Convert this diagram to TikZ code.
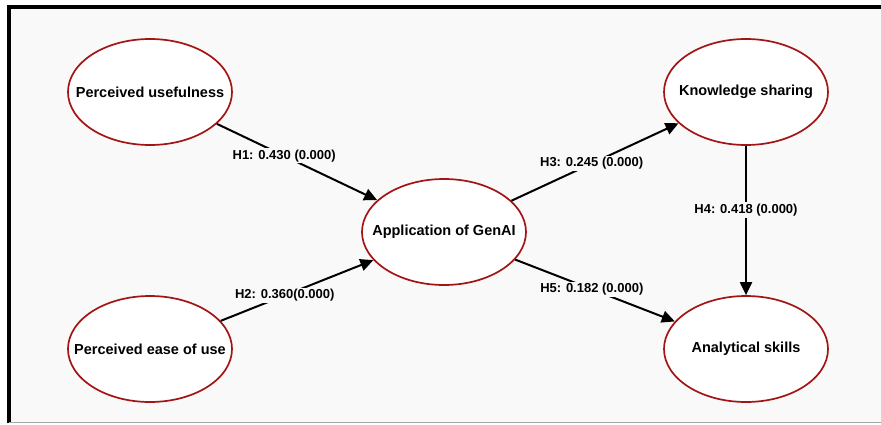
\documentclass[tikz,border=0pt]{standalone}
\usepackage{fontspec}
\setmainfont{Liberation Sans}
\usetikzlibrary{arrows.meta,shapes.geometric}
\definecolor{panelgray}{HTML}{F9F9F9}
\definecolor{ringred}{HTML}{A31515}

\begin{document}
\begin{tikzpicture}[x=1pt,y=-1pt,
  construct/.style={ellipse, draw=ringred, line width=1.7pt, fill=white,
    minimum width=164pt, minimum height=106pt, inner xsep=-30pt, inner ysep=0pt,
    font=\bfseries\fontsize{14.5}{17}\selectfont},
  link/.style={line width=2pt, -{Triangle[length=13pt,width=12pt]}},
  coef/.style={fill=panelgray, inner sep=1.5pt,
    font=\bfseries\fontsize{13}{15}\selectfont}]
  \useasboundingbox (0,0) rectangle (881,424);
  \fill[panelgray] (7,5) rectangle (881,423);
  \draw[black, line width=3.5pt] (8.8,423) -- (8.8,7) -- (881,7);
  \draw[gray!70, line width=1.2pt] (8.8,422.5) -- (881,422.5);

  \node[construct] (pu) at (150,92) {Perceived usefulness};
  \node[construct] (pe) at (150,349) {Perceived ease of use};
  \node[construct] (app) at (444,232) {Application of GenAI};
  \node[construct] (ks) at (746,92) {Knowledge sharing};
  \node[construct] (as) at (746,349) {Analytical skills};

  \draw[link] (pu) -- node[coef, pos=0.42] {H1: 0.430 (0.000)} (app);
  \draw[link] (pe) -- node[coef, pos=0.42] {H2: 0.360(0.000)} (app);
  \draw[link] (app) -- node[coef, pos=0.48] {H3: 0.245 (0.000)} (ks);
  \draw[link] (ks) -- node[coef, pos=0.43] {H4: 0.418 (0.000)} (as);
  \draw[link] (app) -- node[coef, pos=0.48] {H5: 0.182 (0.000)} (as);
\end{tikzpicture}
\end{document}
